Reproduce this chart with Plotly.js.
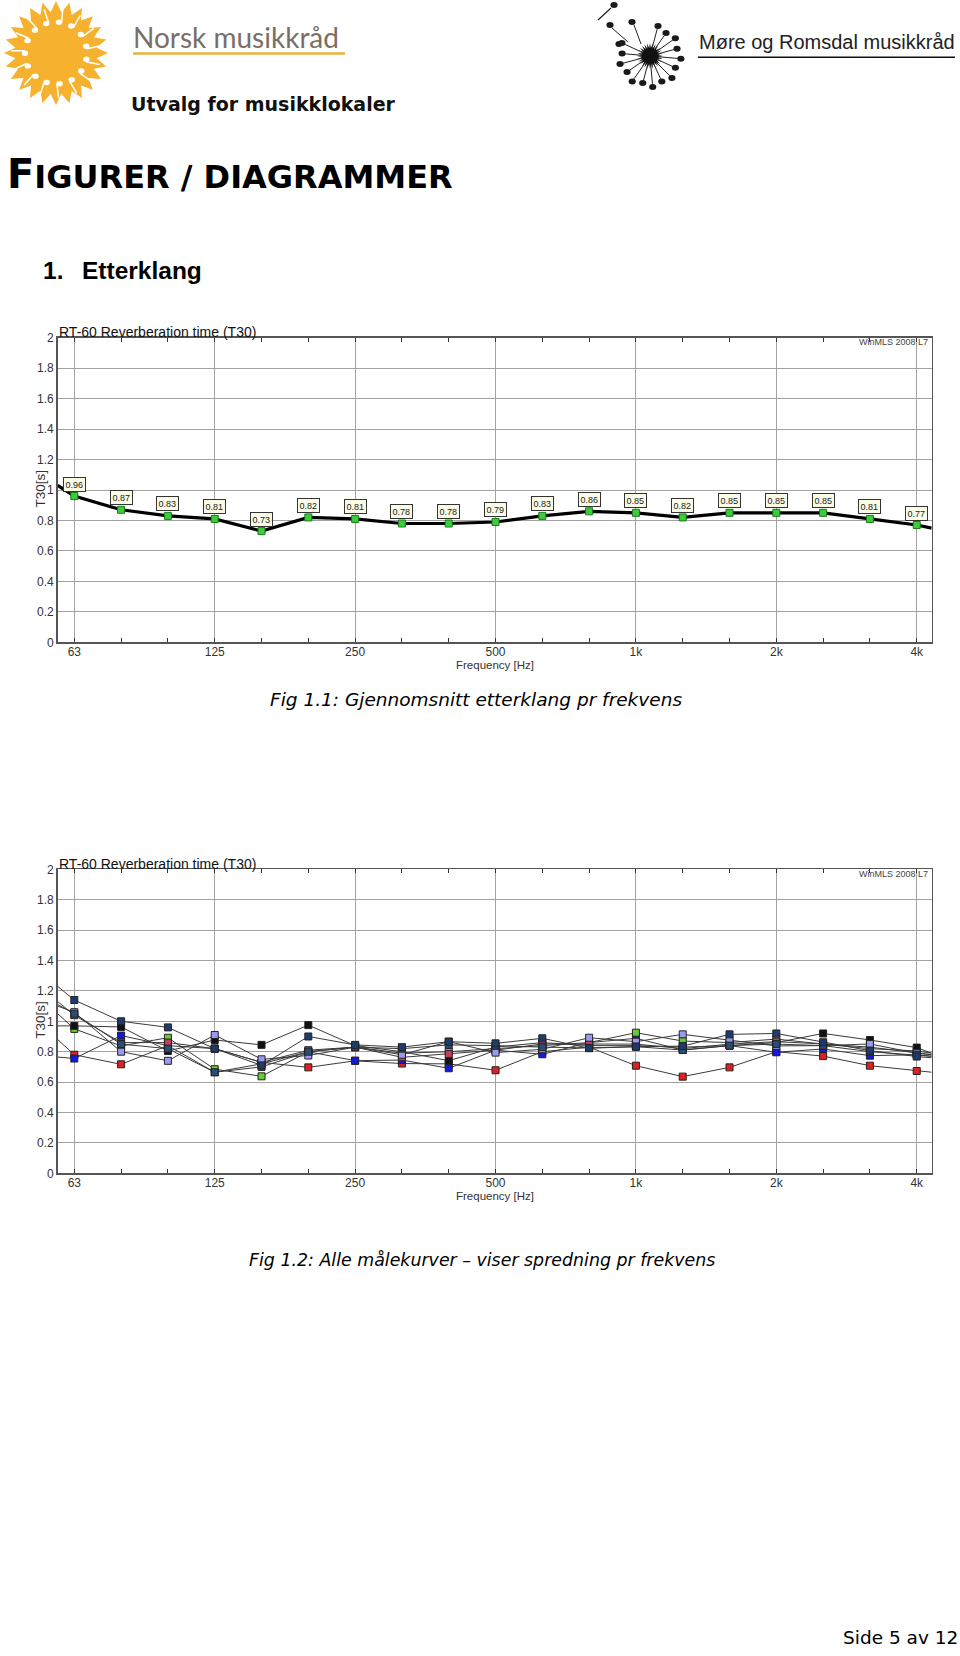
<!DOCTYPE html>
<html><head><meta charset="utf-8">
<script src="https://cdn.plot.ly/plotly-3.0.1.min.js"></script>
<style>html,body{margin:0;padding:0;background:#fff}#page{width:960px;height:1656px}</style>
</head><body><div id="page"></div>
<script>
// ---------- DATA ----------
const bandLabels = ['63','80','100','125','160','200','250','315','400','500','630','800','1k','1.25k','1.6k','2k','2.5k','3.15k','4k'];
const octaveTickIdx = [0,3,6,9,12,15,18];
const octaveTickText = ['63','125','250','500','1k','2k','4k'];
const yTickVals = [0,0.2,0.4,0.6,0.8,1,1.2,1.4,1.6,1.8,2];

// Fig 1.1 average T30 per third-octave band
const avgT30  = [0.96,0.87,0.83,0.81,0.73,0.82,0.81,0.78,0.78,0.79,0.83,0.86,0.85,0.82,0.85,0.85,0.85,0.81,0.77];
const avgEdge = [1.03, 0.75];   // curve value at left / right plot edge

// Fig 1.2 individual measurement curves
const curveNavy    = [1.14,1.00,0.96,0.82,0.71,0.90,0.845,0.83,0.866,0.855,0.888,0.823,0.833,0.837,0.914,0.92,0.862,0.807,0.768];
const curveNavy2   = [1.05,0.85,0.82,0.665,0.70,0.80,0.83,0.82,0.845,0.84,0.83,0.825,0.833,0.811,0.84,0.85,0.84,0.80,0.78];
const curveLilac   = [1.06,0.80,0.74,0.91,0.75,0.775,0.83,0.78,0.866,0.794,0.816,0.892,0.866,0.914,0.877,0.838,0.84,0.851,0.79];
const curveCrimson = [1.04,0.86,0.86,0.82,0.73,0.81,0.83,0.763,0.785,0.81,0.851,0.849,0.85,0.82,0.85,0.866,0.851,0.83,0.79];
const curveBlack   = [0.97,0.963,0.805,0.877,0.845,0.975,0.84,0.80,0.741,0.83,0.86,0.84,0.84,0.83,0.84,0.86,0.92,0.877,0.827];
const curveGreen   = [0.95,0.838,0.892,0.685,0.638,0.80,0.83,0.79,0.80,0.82,0.84,0.86,0.925,0.87,0.86,0.883,0.85,0.82,0.805];
const curveBlue    = [0.755,0.906,0.84,0.665,0.72,0.80,0.741,0.745,0.691,0.81,0.783,0.86,0.888,0.811,0.84,0.796,0.818,0.774,0.78];
const curveRed     = [0.78,0.717,0.84,0.82,0.73,0.697,0.74,0.722,0.72,0.678,0.80,0.83,0.708,0.636,0.697,0.80,0.771,0.708,0.673];
const edgeNavy=[1.23,0.76], edgeNavy2=[1.11,0.77], edgeLilac=[1.10,0.78], edgeCrimson=[1.13,0.78],
      edgeBlack=[0.97,0.79], edgeGreen=[1.05,0.79], edgeBlue=[0.765,0.77], edgeRed=[0.88,0.665];

// ---------- HELPERS ----------
const W=960, H=1656;
const X_RANGE=[-0.355,18.32];
const idx = bandLabels.map((_,i)=>i);
const fx = x=>x/W, fy = y=>1-y/H;
function pathOf(pts){return 'M'+pts.map(p=>fx(p[0]).toFixed(5)+','+fy(p[1]).toFixed(5)).join('L')+'Z';}
function lineShape(x0,y0,x1,y1,color,width){return {type:'line',xref:'paper',yref:'paper',x0:fx(x0),y0:fy(y0),x1:fx(x1),y1:fy(y1),line:{color,width}};}
function circ(cx,cy,rx,ry,color){return {type:'circle',xref:'paper',yref:'paper',x0:fx(cx-rx),x1:fx(cx+rx),y0:fy(cy+ry),y1:fy(cy-ry),fillcolor:color,line:{width:0}};}
function txt(text,x,y,font,opt){return Object.assign({xref:'paper',yref:'paper',x:fx(x),y:fy(y),text,showarrow:false,xanchor:'left',yanchor:'middle',font},opt||{});}

const shapes=[], annotations=[];

// Sun logo (Norsk musikkråd)
(function(){
  const cx=56,cy=53,N=24,R=52,r=41,pts=[];
  for(let k=0;k<2*N;k++){const a=-Math.PI/2+k*Math.PI/N;const rr=k%2?r:R;pts.push([cx+rr*Math.cos(a),cy+rr*Math.sin(a)]);}
  shapes.push({type:'path',xref:'paper',yref:'paper',path:pathOf(pts),fillcolor:'#f6b12f',line:{width:0}});
  for(let k=0;k<15;k++){
    const a=k*2*Math.PI/15+0.2, c=Math.cos(a), s=Math.sin(a);
    const hx=cx+31*c, hy=cy+31*s;
    shapes.push(circ(hx,hy,3.2,2.7,'#ffffff'));
    const tx=-s*2.6, ty=c*2.6;
    shapes.push(lineShape(hx+tx,hy+ty,cx+45*c+tx,cy+45*s+ty,'#ffffff',1.5));
  }
})();
// Dandelion logo (Møre og Romsdal)
(function(){
  const cx=650,cy=56,pts=[];
  for(let k=0;k<56;k++){const a=k*Math.PI/28;const rr=k%2?8:13;pts.push([cx+rr*Math.cos(a),cy+rr*Math.sin(a)]);}
  shapes.push({type:'path',xref:'paper',yref:'paper',path:pathOf(pts),fillcolor:'#111',line:{width:0}});
  const angs=[-75,-55,-35,-15,5,25,45,65,85,105,125,145,165,185,205];
  angs.forEach((d,i)=>{const a=d*Math.PI/180,c=Math.cos(a),s=Math.sin(a);const rr=i%2?28:31;
    shapes.push(lineShape(cx+8*c,cy+8*s,cx+(rr-3)*c,cy+(rr-3)*s,'#222',1));
    shapes.push(circ(cx+rr*c,cy+rr*s,3.6,3,'#1a1a1a'));});
  [[614,5],[610,25],[632,22],[619,44]].forEach(p=>shapes.push(circ(p[0],p[1],3.6,3,'#1a1a1a')));
  shapes.push(lineShape(598,20,611,8,'#222',1.3));
  shapes.push(lineShape(612,28,628,42,'#222',1));
  shapes.push(lineShape(634,25,641,44,'#222',1));
})();

// Header texts
annotations.push(txt('Norsk musikkråd',131,36.7,{family:'Lato',size:28,color:'#7a6e68'}));
shapes.push(lineShape(133,53.5,345,53.5,'#e9b43c',2.5));
annotations.push(txt('<b>Utvalg for musikklokaler</b>',129,103.7,{family:'DejaVu Sans',size:19,color:'#111'}));
annotations.push(txt('Møre og Romsdal musikkråd',697,42,{family:'Liberation Sans',size:20,color:'#222'}));
shapes.push(lineShape(698,57.3,955,57.3,'#111',1.6));
annotations.push(txt('<b><span style="font-size:40px">F</span>IGURER / DIAGRAMMER</b>',5,174,{family:'DejaVu Sans',size:32,color:'#000'}));
annotations.push(txt('<b>1.</b>',41,270,{family:'Liberation Sans',size:24.5,color:'#000'}));
annotations.push(txt('<b>Etterklang</b>',80,270,{family:'Liberation Sans',size:24.5,color:'#000'}));
annotations.push(txt('<i>Fig 1.1: Gjennomsnitt etterklang pr frekvens</i>',476,699.5,{family:'DejaVu Sans',size:18.5,color:'#000'},{xanchor:'center'}));
annotations.push(txt('<i>Fig 1.2: Alle målekurver – viser spredning pr frekvens</i>',482,1260,{family:'DejaVu Sans',size:17.4,color:'#000'},{xanchor:'center'}));
annotations.push(txt('Side 5 av 12',841,1637,{family:'DejaVu Sans',size:18.5,color:'#000'}));

// ---------- CHART AXES ----------
const plots=[{top:337.7,bot:642.3,xa:'xaxis',ya:'yaxis',x:'x',y:'y'},{top:869.3,bot:1173.3,xa:'xaxis2',ya:'yaxis2',x:'x2',y:'y2'}];
const layout={width:W,height:H,margin:{l:0,r:0,t:0,b:0},paper_bgcolor:'#fff',plot_bgcolor:'#fff',showlegend:false,shapes,annotations};
const tickFont={family:'Liberation Sans',size:12,color:'#333'};
plots.forEach(p=>{
  layout[p.xa]={domain:[fx(57.7),fx(931.7)],range:X_RANGE,anchor:p.y,tickmode:'array',tickvals:octaveTickIdx,ticktext:octaveTickText,
    ticks:'inside',ticklen:4,tickcolor:'#333',tickwidth:1,ticklabelstandoff:-2,
    minor:{tick0:0,dtick:1,ticks:'inside',ticklen:4,tickcolor:'#333',showgrid:false},
    showgrid:true,gridcolor:'#a3a3a3',gridwidth:1,showline:true,linecolor:'#555',linewidth:1.5,mirror:'ticks',zeroline:false,
    tickfont:tickFont,fixedrange:true};
  layout[p.ya]={domain:[fy(p.bot),fy(p.top)],range:[0,2],anchor:p.x,tickmode:'array',tickvals:yTickVals,ticks:'',
    showgrid:true,gridcolor:'#a3a3a3',gridwidth:1,showline:true,linecolor:'#555',linewidth:1.5,mirror:true,zeroline:false,
    tickfont:tickFont,fixedrange:true};
  annotations.push(txt('RT-60 Reverberation time (T30)',56.5,p.top-5.5,{family:'Liberation Sans',size:14,color:'#111'}));
  annotations.push(txt('WinMLS 2008 L7',930,p.top+4.6,{family:'Liberation Sans',size:9,color:'#444'},{xanchor:'right'}));
  annotations.push(txt('Frequency [Hz]',494.7,p.bot+22.2,{family:'Liberation Sans',size:11.5,color:'#333'},{xanchor:'center'}));
  annotations.push(txt('T30[s]',40.5,(p.top+p.bot)/2-1,{family:'Liberation Sans',size:13.5,color:'#333'},{xanchor:'center',textangle:-90}));
});

// ---------- TRACES ----------
const traces=[];
traces.push({x:[X_RANGE[0],...idx,X_RANGE[1]],y:[avgEdge[0],...avgT30,avgEdge[1]],mode:'lines',line:{color:'#000',width:3.2},xaxis:'x',yaxis:'y',hoverinfo:'skip'});
traces.push({x:idx,y:avgT30,mode:'markers',marker:{symbol:'square',size:7,color:'#3ccd3c',line:{color:'#1d7a1d',width:1}},xaxis:'x',yaxis:'y'});
avgT30.forEach((v,i)=>annotations.push({xref:'x',yref:'y',x:i,y:v,text:v.toFixed(2),showarrow:false,yshift:12,
  bgcolor:'#fbfbe6',bordercolor:'#333',borderwidth:1,borderpad:1.5,font:{family:'Liberation Sans',size:9,color:'#222'}}));

const curves=[
  {vals:curveRed,edge:edgeRed,color:'#dd2020'},
  {vals:curveBlue,edge:edgeBlue,color:'#1717dd'},
  {vals:curveGreen,edge:edgeGreen,color:'#66cc33'},
  {vals:curveBlack,edge:edgeBlack,color:'#111111'},
  {vals:curveCrimson,edge:edgeCrimson,color:'#c83c64'},
  {vals:curveLilac,edge:edgeLilac,color:'#9a9af2'},
  {vals:curveNavy2,edge:edgeNavy2,color:'#2a4d74'},
  {vals:curveNavy,edge:edgeNavy,color:'#1f3b6b'}
];
curves.forEach(c=>traces.push({x:[X_RANGE[0],...idx,X_RANGE[1]],y:[c.edge[0],...c.vals,c.edge[1]],mode:'lines',line:{color:'#3a3a3a',width:1},xaxis:'x2',yaxis:'y2'}));
curves.forEach(c=>traces.push({x:idx,y:c.vals,mode:'markers',marker:{symbol:'square',size:7,color:c.color,line:{color:'#222',width:1}},xaxis:'x2',yaxis:'y2'}));

Plotly.newPlot('page',traces,layout,{staticPlot:true,displayModeBar:false});
</script></body></html>
